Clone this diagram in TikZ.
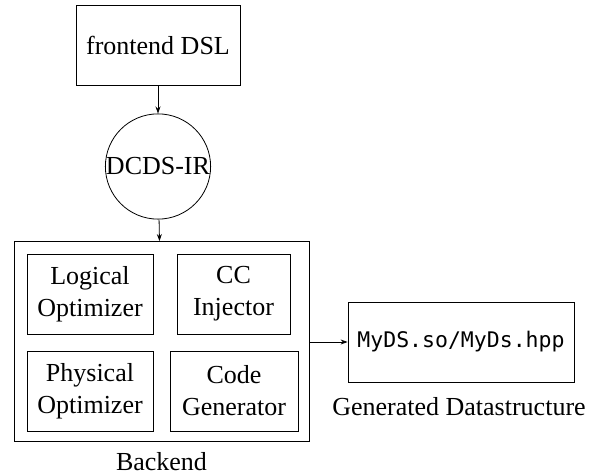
\documentclass[tikz,border=0pt]{standalone}
\usepackage{fontspec}
\setmainfont{Liberation Serif}
\setmonofont{DejaVu Sans Mono}
\usetikzlibrary{arrows.meta}
\begin{document}
\begin{tikzpicture}[x=1pt,y=-1pt,
  every node/.style={font=\fontsize{26}{32}\selectfont},
  box/.style={draw, line width=0.8pt, inner sep=0pt, align=center},
  conn/.style={draw, line width=0.8pt, -{Stealth[length=7pt,width=5pt]}},
  lbl/.style={inner sep=0pt}]
\useasboundingbox (0,0) rectangle (613,476);
\node[box, minimum width=164pt, minimum height=80pt] (fe) at (158,45) {frontend DSL};
\node[draw, circle, line width=0.8pt, inner sep=0pt, minimum size=102pt] (ir) at (158,166.5) {DCDS-IR};
\node[box, minimum width=295pt, minimum height=200pt] (be) at (161.5,341.5) {};
\node[box, minimum width=126pt, minimum height=80pt] (lo) at (90,294) {Logical\\Optimizer};
\node[box, minimum width=113pt, minimum height=80pt] (cc) at (233.5,294) {CC\\Injector};
\node[box, minimum width=126pt, minimum height=80pt] (po) at (90,391) {Physical\\Optimizer};
\node[box, minimum width=128pt, minimum height=80pt] (cg) at (234,391) {Code\\Generator};
\node[lbl] (bel) at (161.5,462) {Backend};
\node[box, minimum width=226pt, minimum height=80pt, font=\fontsize{21.5}{26}\ttfamily] (ds) at (461,342) {MyDS.so/MyDs.hpp};
\node[lbl] (dsl) at (459,407) {Generated Datastructure};
\draw[conn] (fe) -- (ir);
\draw[conn] (ir) -- (be);
\draw[conn] (be.east |- ds) -- (ds);
\end{tikzpicture}
\end{document}
